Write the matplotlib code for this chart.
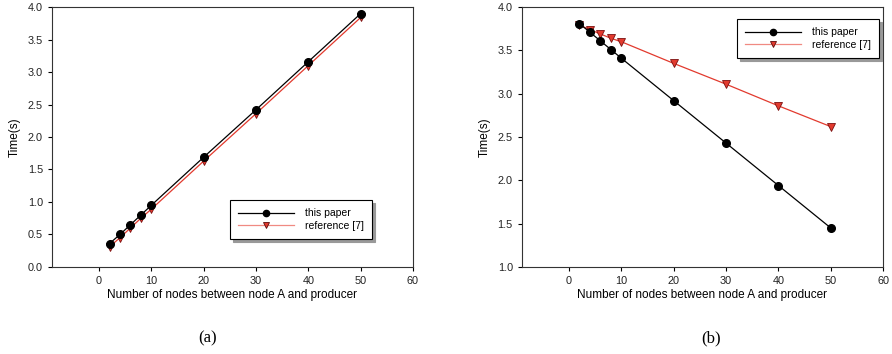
import matplotlib
matplotlib.use("Agg")
import matplotlib.pyplot as plt

plt.rcParams["font.family"] = ["Liberation Sans", "DejaVu Sans"]

NODES = [2, 4, 6, 8, 10, 20, 30, 40, 50]

A_THIS_PAPER = [0.36, 0.50, 0.65, 0.80, 0.95, 1.69, 2.42, 3.16, 3.90]
A_REFERENCE = [0.31, 0.45, 0.60, 0.75, 0.89, 1.63, 2.36, 3.10, 3.84]

B_THIS_PAPER = [3.81, 3.71, 3.61, 3.51, 3.41, 2.92, 2.43, 1.94, 1.45]
B_REFERENCE = [3.79, 3.74, 3.69, 3.64, 3.60, 3.35, 3.11, 2.86, 2.62]

X_TICKS = [0, 10, 20, 30, 40, 50, 60]
SERIES_LABELS = ["this paper", "reference [7]"]
X_LABEL = "Number of nodes between node A and producer"
Y_LABEL = "Time(s)"


def draw_panel(ax, this_paper, reference, ylim, yticks, legend_anchor):
    ax.plot(NODES, this_paper, color="black", lw=0.9, marker="o", ms=5.5,
            mfc="black", mec="black", label=SERIES_LABELS[0], zorder=3)
    ax.plot(NODES, reference, color="#e23a2e", lw=0.9, marker="v", ms=6,
            mfc="#e23a2e", mec="#7a1010", mew=0.6, label=SERIES_LABELS[1], zorder=2)
    ax.set_xlim(-9, 60)
    ax.set_ylim(*ylim)
    ax.set_xticks(X_TICKS)
    ax.set_yticks(yticks)
    ax.set_yticklabels([f"{v:.1f}" for v in yticks])
    ax.tick_params(direction="out", length=3, width=0.8, labelsize=7.8, pad=3.5,
                   labelcolor="#222222")
    for spine in ax.spines.values():
        spine.set_linewidth(0.8)
        spine.set_color("#333333")
    ax.set_xlabel(X_LABEL, fontsize=8.5, labelpad=2)
    ax.set_ylabel(Y_LABEL, fontsize=8.5, labelpad=5)
    leg = ax.legend(loc="upper left", bbox_to_anchor=legend_anchor, fontsize=7.5,
                    frameon=True, fancybox=False,
                    shadow={"color": "0.6", "alpha": 1.0},
                    edgecolor="black", handlelength=5.3, handletextpad=1.1,
                    borderpad=0.8, labelspacing=0.25, borderaxespad=0)
    leg.get_frame().set_linewidth(0.8)
    lines = leg.get_lines()
    lines[0].set_markersize(4.5)
    lines[1].set_markersize(5)
    lines[1].set_color("#f08a82")
    lines[1].set_markerfacecolor("#e23a2e")
    lines[1].set_markeredgecolor("#5a0a0a")


fig = plt.figure(figsize=(8.92, 3.54), dpi=100)
ax_a = fig.add_axes([0.0583, 0.246, 0.4047, 0.734])
ax_b = fig.add_axes([0.585, 0.246, 0.405, 0.734])

draw_panel(ax_a, A_THIS_PAPER, A_REFERENCE, (0.0, 4.0),
           [0.0, 0.5, 1.0, 1.5, 2.0, 2.5, 3.0, 3.5, 4.0],
           (0.493, 0.258))
draw_panel(ax_b, B_THIS_PAPER, B_REFERENCE, (1.0, 4.0),
           [1.0, 1.5, 2.0, 2.5, 3.0, 3.5, 4.0],
           (0.596, 0.954))

fig.text(0.233, 0.045, "(a)", ha="center", va="center", fontsize=12,
         family=["Liberation Serif", "DejaVu Serif"])
fig.text(0.797, 0.045, "(b)", ha="center", va="center", fontsize=12,
         family=["Liberation Serif", "DejaVu Serif"])

fig.savefig("out.png", dpi=100)
